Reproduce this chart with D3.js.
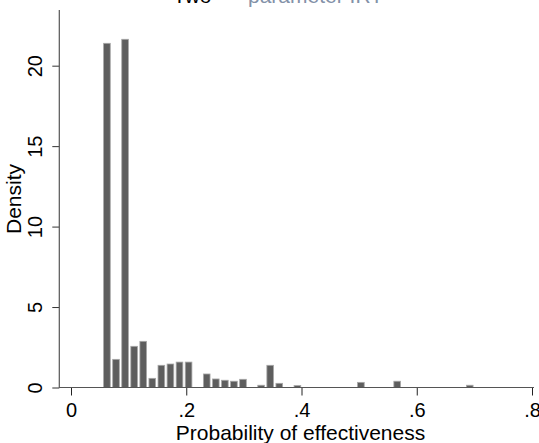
<!DOCTYPE html>
<html>
<head>
<meta charset="utf-8">
<script src="https://cdn.jsdelivr.net/npm/d3@7"></script>
<style>
  html, body { margin: 0; padding: 0; background: #fff; }
  svg { display: block; font-family: "Liberation Sans", Arial, sans-serif; }
</style>
</head>
<body>
<svg id="chart" width="539" height="443"></svg>
<script>
// ---- data ----
const binStart = 0.0545;          // lower edge of first bin
const binWidth = 0.01574;         // histogram bin width
const densities = [
  21.39, 1.75, 21.64, 2.56, 2.87, 0.57, 1.38, 1.46, 1.58, 1.58,
  0, 0.84, 0.53, 0.45, 0.39, 0.51, 0, 0.14, 1.38, 0.26,
  0, 0.12, 0, 0, 0, 0, 0, 0, 0.32, 0,
  0, 0, 0.39, 0, 0, 0, 0, 0, 0, 0,
  0.14
];
const xTicks = [0, 0.2, 0.4, 0.6, 0.8];
const xTickLabels = ["0", ".2", ".4", ".6", ".8"];
const yTicks = [0, 5, 10, 15, 20];
const yTickLabels = ["0", "5", "10", "15", "20"];
const xTitle = "Probability of effectiveness";
const yTitle = "Density";
const titleMain = "Two";
const titleSub = "parameter IRT";

// ---- layout ----
const svg = d3.select("#chart");
const x = d3.scaleLinear().domain([0, 0.8]).range([71, 532]);
const y = d3.scaleLinear().domain([0, 23.46]).range([387.5, 10]);

const bins = densities.map((d, i) => ({
  x0: binStart + i * binWidth,
  x1: binStart + (i + 1) * binWidth,
  d: d
})).filter(b => b.d > 0);

// bars
svg.append("g").selectAll("rect").data(bins).join("rect")
  .attr("x", b => x(b.x0) + 1.2)
  .attr("width", b => x(b.x1) - x(b.x0) - 2.4)
  .attr("y", b => y(b.d))
  .attr("height", b => y(0) - y(b.d))
  .attr("fill", "#5e5e5e")
  .attr("stroke", "#a8a8a8")
  .attr("stroke-width", 0.8);

// x axis
const xAxis = d3.axisBottom(x).tickValues(xTicks)
  .tickFormat((d, i) => xTickLabels[i]).tickSize(8).tickSizeOuter(0);
const gx = svg.append("g").attr("transform", "translate(0,387.5)").call(xAxis);
gx.select(".domain").remove();
gx.selectAll(".tick line").attr("stroke", "#222");
gx.selectAll(".tick text").attr("font-size", "20px").attr("fill", "#000")
  .attr("dy", null).attr("y", 29.5);
svg.append("line").attr("x1", 59.3).attr("x2", 534)
  .attr("y1", 387.5).attr("y2", 387.5).attr("stroke", "#555").attr("stroke-width", 1.2);

// y axis
const yAxis = d3.axisLeft(y).tickValues(yTicks)
  .tickFormat((d, i) => yTickLabels[i]).tickSize(7).tickSizeOuter(0);
const gy = svg.append("g").attr("transform", "translate(59.3,0)").call(yAxis);
gy.select(".domain").remove();
gy.selectAll(".tick line").attr("stroke", "#333");
gy.selectAll(".tick text")
  .attr("font-size", "20px").attr("fill", "#000")
  .attr("x", null).attr("dy", null)
  .attr("text-anchor", "middle")
  .attr("transform", "translate(-17.5,0) rotate(-90)");
svg.append("line").attr("x1", 59.3).attr("x2", 59.3)
  .attr("y1", 10).attr("y2", 388).attr("stroke", "#555").attr("stroke-width", 1.2);

// axis titles
svg.append("text").attr("x", 300.5).attr("y", 439.5)
  .attr("text-anchor", "middle").attr("font-size", "21px").attr("fill", "#000")
  .text(xTitle);
svg.append("text").attr("transform", "translate(21,199) rotate(-90)")
  .attr("text-anchor", "middle").attr("font-size", "21px").attr("fill", "#000")
  .text(yTitle);

// title (cut off at the top in the reference)
svg.append("text").attr("x", 173).attr("y", 2.5)
  .attr("font-size", "21px").attr("fill", "#000").text(titleMain);
svg.append("text").attr("x", 248).attr("y", 2.5)
  .attr("font-size", "21px").attr("fill", "#8391a8").text(titleSub);
</script>
</body>
</html>
